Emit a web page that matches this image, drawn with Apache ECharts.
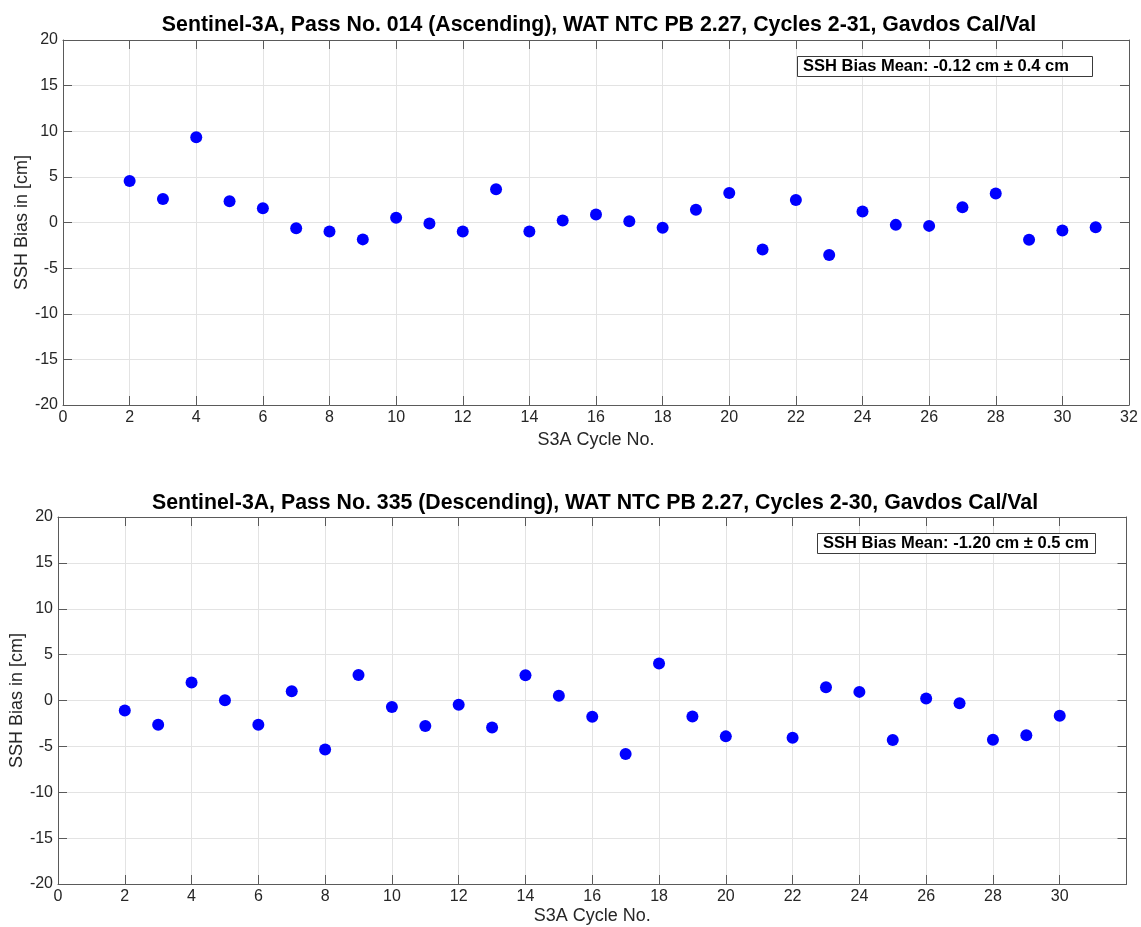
<!DOCTYPE html>
<html>
<head>
<meta charset="utf-8">
<script src="https://cdn.jsdelivr.net/npm/echarts@6/dist/echarts.min.js"></script>
<style>
html,body{margin:0;padding:0;background:#fff;}
#chart{width:1141px;height:927px;}
</style>
</head>
<body>
<div id="chart"></div>
<script>
// ---- data ----
const titleTop = 'Sentinel-3A, Pass No. 014 (Ascending), WAT NTC PB 2.27, Cycles 2-31, Gavdos Cal/Val';
const titleBottom = 'Sentinel-3A, Pass No. 335 (Descending), WAT NTC PB 2.27, Cycles 2-30, Gavdos Cal/Val';
const noteTop = 'SSH Bias Mean: -0.12 cm ± 0.4 cm';
const noteBottom = 'SSH Bias Mean: -1.20 cm ± 0.5 cm';
const xLabel = 'S3A Cycle No.';
const yLabel = 'SSH Bias in [cm]';

const cyclesTop = [2,3,4,5,6,7,8,9,10,11,12,13,14,15,16,17,18,19,20,21,22,23,24,25,26,27,28,29,30,31];
const biasTop = [4.56,2.57,9.35,2.32,1.55,-0.62,-0.98,-1.85,0.51,-0.10,-0.98,3.64,-0.98,0.22,0.87,0.14,-0.58,1.41,3.23,-2.95,2.46,-3.55,1.20,-0.26,-0.37,1.66,3.18,-1.89,-0.87,-0.51];

const cyclesBottom = [2,3,4,5,6,7,8,9,10,11,12,13,14,15,16,17,18,19,20,22,23,24,25,26,27,28,29,30];
const biasBottom = [-1.09,-2.64,1.96,0.04,-2.64,1.01,-5.33,2.79,-0.72,-2.79,-0.47,-2.93,2.75,0.51,-1.78,-5.83,4.02,-1.74,-3.91,-4.06,1.45,0.94,-4.31,0.22,-0.29,-4.28,-3.80,-1.67];

const xMin = 0, xMax = 32, xStep = 2;
const yMin = -20, yMax = 20, yStep = 5;
const xTicksBottomMax = 30;

// ---- chart ----
const FONT = '"Liberation Sans", Arial, sans-serif';
const TXT = '#262626';
const AX = '#5a5a5a';
const GRIDC = '#e3e3e3';

function pairs(xs, ys){ return xs.map((x,i)=>[x, ys[i]]); }

function xMain(gi, nameGap, hideAbove){
  return {
    type:'value', gridIndex:gi, min:xMin, max:xMax, interval:xStep, position:'bottom',
    name:xLabel, nameLocation:'middle', nameGap:nameGap, nameMoveOverlap:false,
    nameTextStyle:{fontFamily:FONT, fontSize:18, color:TXT},
    axisLine:{show:true, onZero:false, lineStyle:{color:AX, width:1}},
    axisTick:{show:true, inside:true, length:9, lineStyle:{color:AX},
      interval:(i, v)=> !(hideAbove!==undefined && Number(v)>hideAbove)},
    axisLabel:{fontFamily:FONT, fontSize:16, color:TXT, margin:5,
      formatter:(v)=> (hideAbove!==undefined && v>hideAbove) ? '' : String(v)},
    splitLine:{show:true, lineStyle:{color:GRIDC, width:1}}
  };
}
function xTop(gi){
  return {
    type:'value', gridIndex:gi, min:xMin, max:xMax, interval:xStep, position:'top',
    axisLine:{show:true, onZero:false, lineStyle:{color:AX, width:1}},
    axisTick:{show:true, inside:true, length:9, lineStyle:{color:AX}},
    axisLabel:{show:false}, splitLine:{show:false}
  };
}
function yMain(gi){
  return {
    type:'value', gridIndex:gi, min:yMin, max:yMax, interval:yStep, position:'left',
    name:yLabel, nameLocation:'middle', nameGap:32, nameMoveOverlap:false,
    nameTextStyle:{fontFamily:FONT, fontSize:18, color:TXT},
    axisLine:{show:true, onZero:false, lineStyle:{color:AX, width:1}},
    axisTick:{show:true, inside:true, length:9, lineStyle:{color:AX}},
    axisLabel:{fontFamily:FONT, fontSize:16, color:TXT, margin:5},
    splitLine:{show:true, lineStyle:{color:GRIDC, width:1}}
  };
}
function yRight(gi){
  return {
    type:'value', gridIndex:gi, min:yMin, max:yMax, interval:yStep, position:'right',
    axisLine:{show:true, onZero:false, lineStyle:{color:AX, width:1}},
    axisTick:{show:true, inside:true, length:9, lineStyle:{color:AX}},
    axisLabel:{show:false}, splitLine:{show:false}
  };
}

const chart = echarts.init(document.getElementById('chart'), null, {renderer:'canvas'});
chart.setOption({
  backgroundColor:'#ffffff',
  animation:false,
  title:[
    {text:titleTop, left:594, top:10, textAlign:'center',
     textStyle:{fontFamily:FONT, fontSize:21.3, fontWeight:'bold', color:'#000'}},
    {text:titleBottom, left:590, top:488, textAlign:'center',
     textStyle:{fontFamily:FONT, fontSize:21.3, fontWeight:'bold', color:'#000'}},
    {text:noteTop, left:797, top:56, padding:[2,24,2,6],
     borderWidth:1, borderColor:'#3a3a3a', backgroundColor:'#fff',
     textStyle:{fontFamily:FONT, fontSize:16.5, fontWeight:'bold', color:'#000', lineHeight:17}},
    {text:noteBottom, left:817, top:533, padding:[2,7,2,6],
     borderWidth:1, borderColor:'#3a3a3a', backgroundColor:'#fff',
     textStyle:{fontFamily:FONT, fontSize:16.5, fontWeight:'bold', color:'#000', lineHeight:17}}
  ],
  grid:[
    {left:63, top:40, width:1066, height:365, containLabel:false, outerBoundsMode:'none'},
    {left:58, top:517, width:1068.5, height:367, containLabel:false, outerBoundsMode:'none'}
  ],
  xAxis:[ xMain(0, 26), xTop(0), xMain(1, 23, xTicksBottomMax), xTop(1) ],
  yAxis:[ yMain(0), yRight(0), yMain(1), yRight(1) ],
  series:[
    {type:'scatter', xAxisIndex:0, yAxisIndex:0, data:pairs(cyclesTop, biasTop),
     symbol:'circle', symbolSize:12, itemStyle:{color:'#0000ff', opacity:1}, z:5},
    {type:'scatter', xAxisIndex:2, yAxisIndex:2, data:pairs(cyclesBottom, biasBottom),
     symbol:'circle', symbolSize:12, itemStyle:{color:'#0000ff', opacity:1}, z:5}
  ]
});
</script>
</body>
</html>
